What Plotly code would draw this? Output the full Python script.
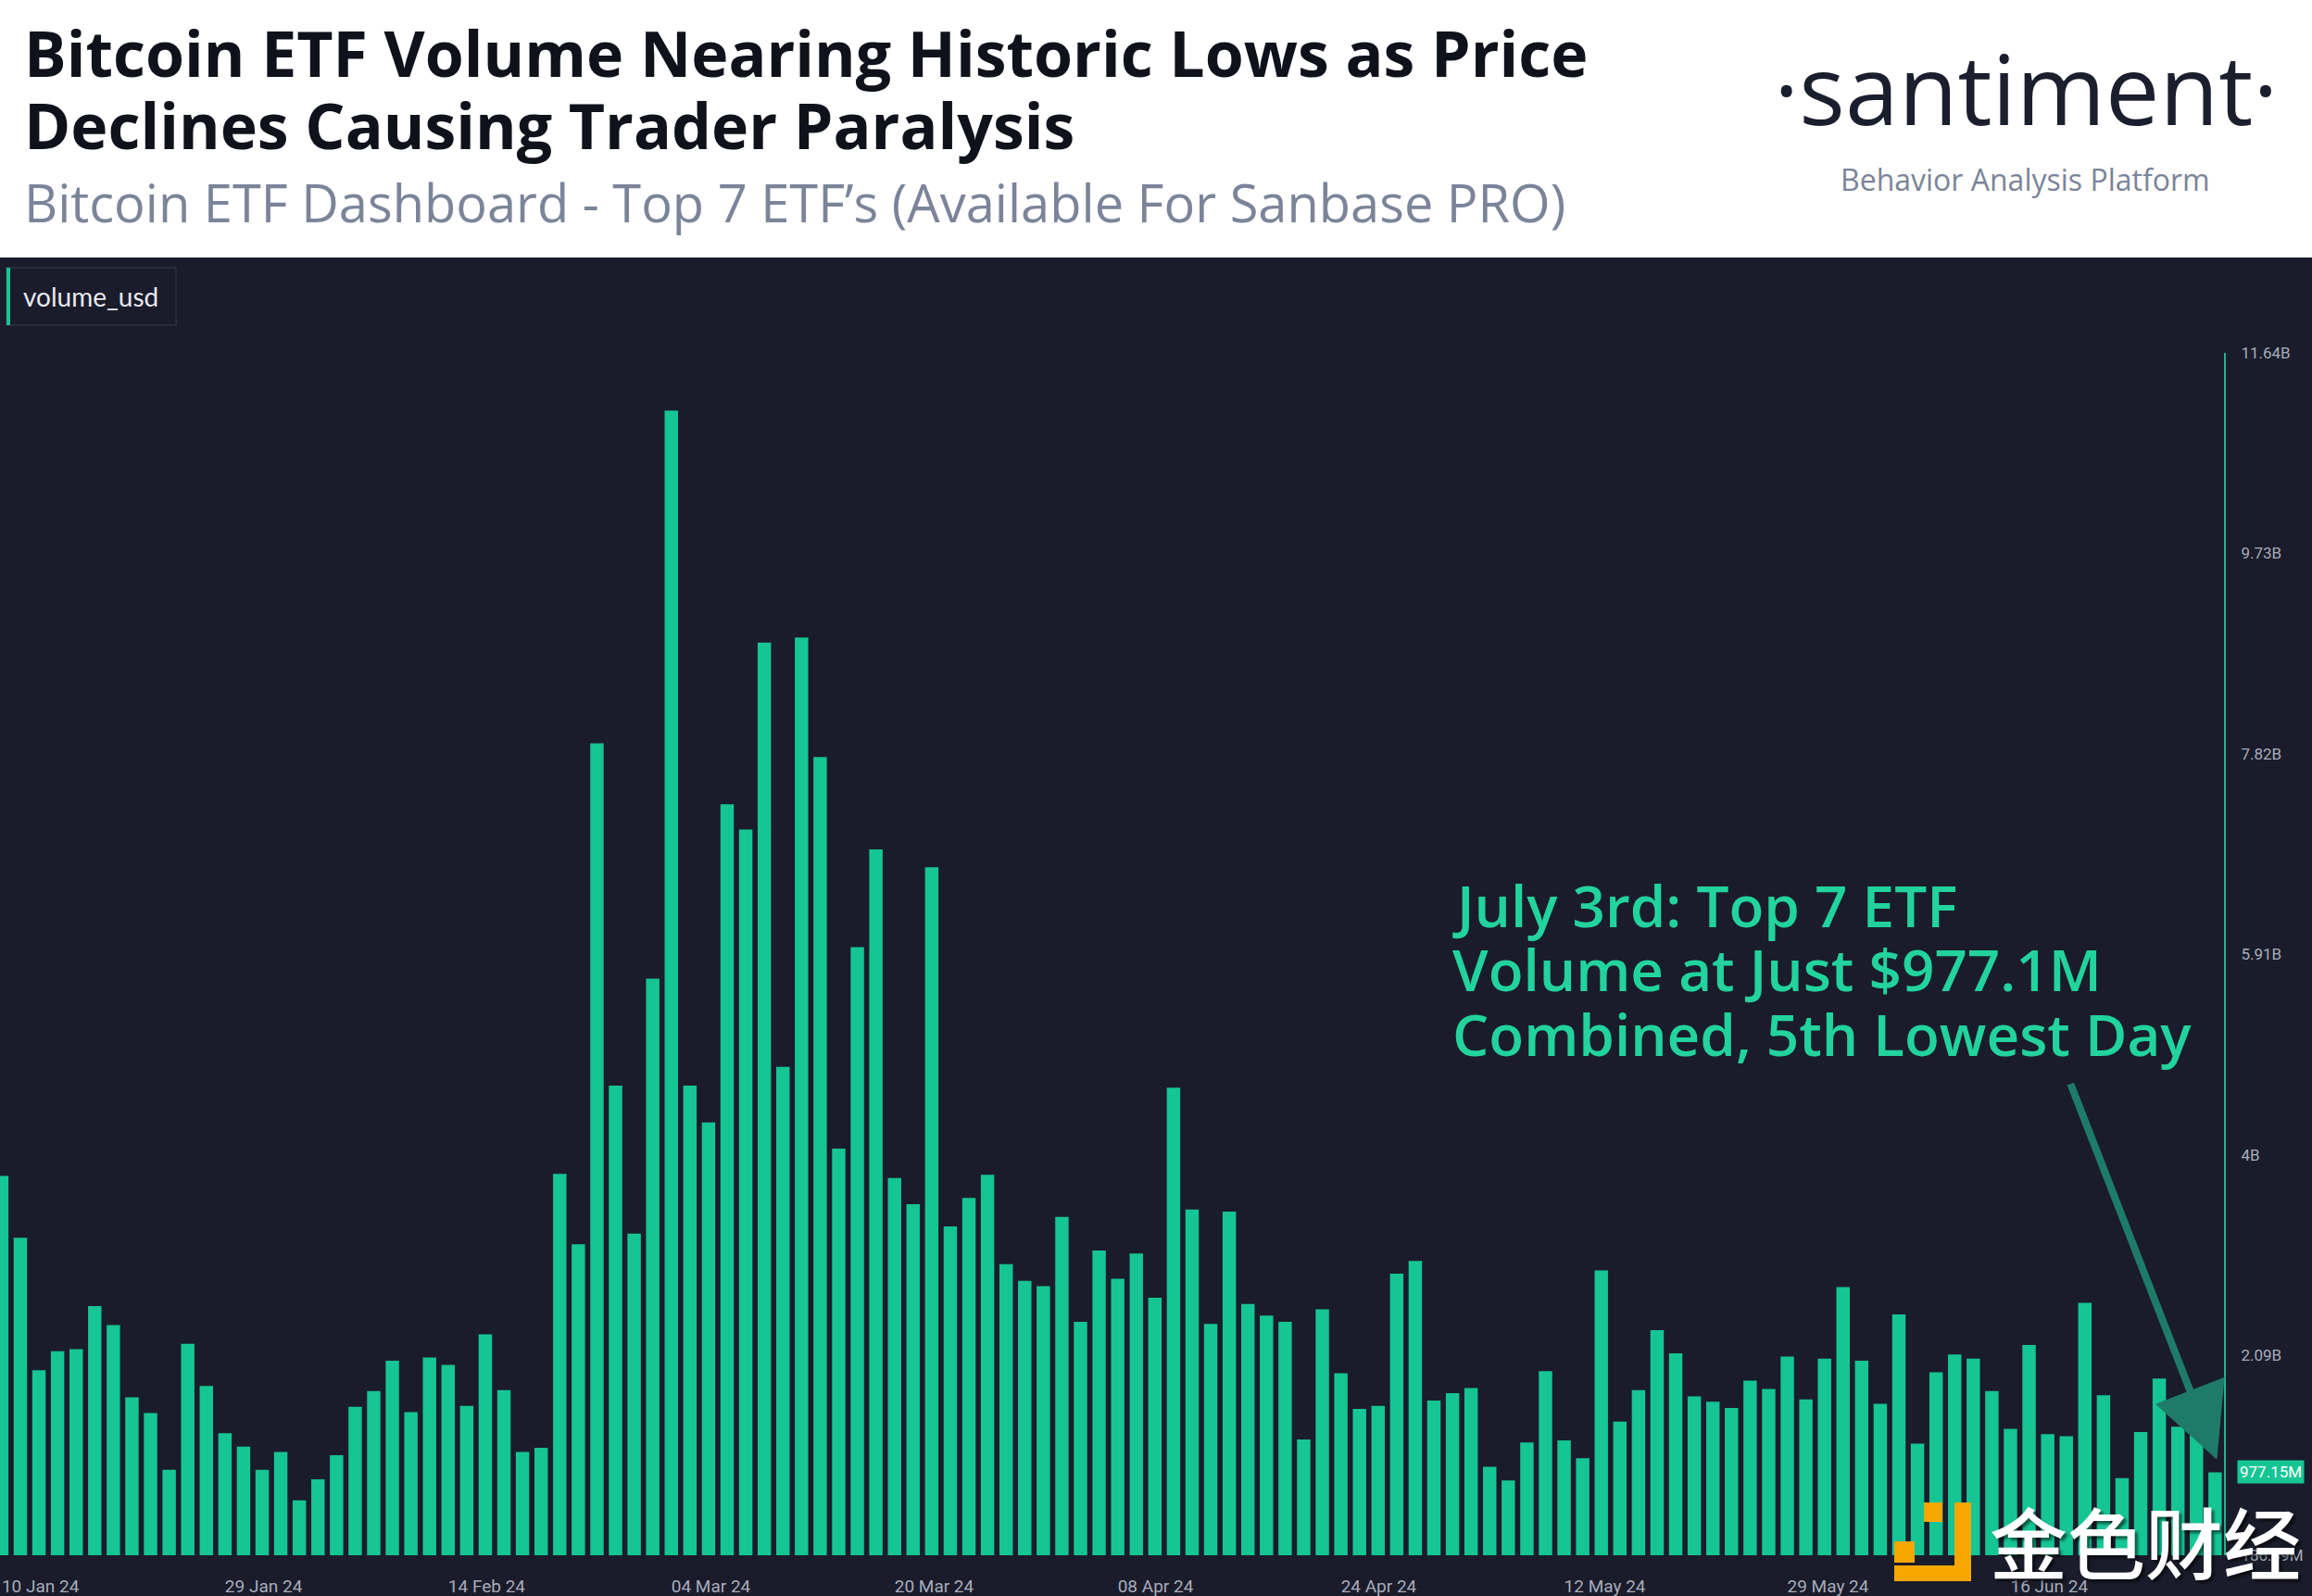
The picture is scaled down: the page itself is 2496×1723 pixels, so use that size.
import plotly.graph_objects as go

# ---------------- data ----------------
# Daily combined volume of the top-7 spot Bitcoin ETFs, in billions of USD
VOLUME_B = [
    3.80, 3.21, 1.95, 2.13, 2.15, 2.56, 2.38, 1.69, 1.54, 1.00,
    2.20, 1.80, 1.35, 1.22, 1.00, 1.17, 0.71, 0.91, 1.14, 1.60,
    1.75, 2.04, 1.55, 2.07, 2.00, 1.61, 2.29, 1.76, 1.17, 1.21,
    3.82, 3.15, 7.92, 4.66, 3.25, 5.68, 11.09, 4.66, 4.31, 7.34,
    7.10, 8.88, 4.84, 8.93, 7.79, 4.06, 5.98, 6.91, 3.78, 3.53,
    6.74, 3.32, 3.59, 3.81, 2.96, 2.80, 2.75, 3.41, 2.41, 3.09,
    2.82, 3.06, 2.64, 4.64, 3.48, 2.39, 3.46, 2.58, 2.47, 2.41,
    1.29, 2.53, 1.92, 1.58, 1.61, 2.87, 2.99, 1.66, 1.73, 1.78,
    1.03, 0.90, 1.26, 1.94, 1.28, 1.11, 2.90, 1.46, 1.76, 2.33,
    2.11, 1.70, 1.65, 1.59, 1.85, 1.77, 2.08, 1.67, 2.06, 2.74,
    2.04, 1.63, 2.48, 1.25, 1.93, 2.10, 2.06, 1.75, 1.39, 2.19,
    1.34, 1.32, 2.59, 1.71, 0.92, 1.36, 1.87, 1.41, 1.33, 0.97715,
]
VOLUME_USD = [v * 1e9 for v in VOLUME_B]
DAY_INDEX = list(range(len(VOLUME_USD)))  # trading-day categories

X_TICK_POS = [0, 12, 24, 36, 48, 60, 72, 84, 96, 108]
X_TICK_LABELS = ["10 Jan 24", "29 Jan 24", "14 Feb 24", "04 Mar 24", "20 Mar 24",
                 "08 Apr 24", "24 Apr 24", "12 May 24", "29 May 24", "16 Jun 24"]

Y_TICK_VALUES = [186.49e6, 2.09e9, 4.00e9, 5.91e9, 7.82e9, 9.73e9, 11.64e9]
Y_TICK_LABELS = ["186.49M", "2.09B", "4B", "5.91B", "7.82B", "9.73B", "11.64B"]

TITLE_LINES = ["Bitcoin ETF Volume Nearing Historic Lows as Price",
               "Declines Causing Trader Paralysis"]
SUBTITLE = "Bitcoin ETF Dashboard - Top 7 ETF\u2019s (Available For Sanbase PRO)"
CALLOUT_LINES = ["July 3rd: Top 7 ETF", "Volume at Just $977.1M",
                 "Combined, 5th Lowest Day"]
SERIES_NAME = "volume_usd"

# ---------------- styling / layout ----------------
W, H = 2496, 1723
M_L, M_R, M_T, M_B = 0, 95, 381, 44
PW, PH = W - M_L - M_R, H - M_T - M_B
DARK = "#1a1c2b"
BAR_COLOR = "#15c594"
AXIS_GREEN = "#1fb48e"
TICK_COLOR = "#a7acbb"
GREY_TEXT = "#7b8499"
LOGO_YELLOW = "#f5a700"


def px(x):
    """figure pixel x -> paper coordinate"""
    return (x - M_L) / PW


def py(y):
    """figure pixel y (from top) -> paper coordinate"""
    return (H - M_B - y) / PH


fig = go.Figure(
    go.Bar(
        x=DAY_INDEX,
        y=VOLUME_USD,
        name=SERIES_NAME,
        width=0.72,
        marker=dict(color=BAR_COLOR, line=dict(width=0)),
        hoverinfo="skip",
    )
)

fig.update_layout(
    width=W,
    height=H,
    autosize=False,
    template="none",
    margin=dict(l=M_L, r=M_R, t=M_T, b=M_B, pad=0),
    paper_bgcolor="white",
    plot_bgcolor=DARK,
    showlegend=False,
    xaxis=dict(
        range=[-0.095, 119.48],
        tickmode="array",
        tickvals=X_TICK_POS,
        ticktext=X_TICK_LABELS,
        ticklabelposition="outside right",
        ticks="",
        showgrid=False,
        zeroline=False,
        showline=False,
        automargin=False,
        ticklabelstandoff=20,
        tickfont=dict(family="Roboto", size=19, color=TICK_COLOR),
        fixedrange=True,
    ),
    yaxis=dict(
        side="right",
        range=[186.40e6, 11.6402e9],
        tickmode="array",
        tickvals=Y_TICK_VALUES,
        ticktext=Y_TICK_LABELS,
        ticks="",
        showgrid=False,
        zeroline=False,
        showline=True,
        linecolor=AXIS_GREEN,
        linewidth=2,
        automargin=False,
        ticklabelstandoff=13,
        tickfont=dict(family="Roboto", size=17, color=TICK_COLOR),
        fixedrange=True,
    ),
)


def rect(x0, y0, x1, y1, fill, line=None, layer="above"):
    return dict(type="rect", xref="paper", yref="paper",
                x0=px(x0), x1=px(x1), y0=py(y1), y1=py(y0),
                fillcolor=fill, line=line or dict(width=0), layer=layer)


shapes = [
    # dark chart panel below the white header
    rect(0, 278, W, H, DARK, layer="below"),
    # legend chip
    rect(7, 289, 190, 351, "rgba(0,0,0,0)", line=dict(color="#2c3044", width=1.5)),
    rect(7, 289, 11, 351, BAR_COLOR),
    # watermark logo blocks
    rect(2077, 1622, 2097, 1643, LOGO_YELLOW),
    rect(2110, 1622, 2128, 1707, LOGO_YELLOW),
    rect(2045, 1664, 2067, 1687, LOGO_YELLOW),
    rect(2045, 1690, 2128, 1707, LOGO_YELLOW),
]

annotations = []
# title
for text, yc in zip(TITLE_LINES, [57, 135]):
    annotations.append(dict(
        text=text, xref="paper", yref="paper", x=px(24), y=py(yc),
        xanchor="left", yanchor="middle", showarrow=False,
        font=dict(family="Open Sans", size=68, color="#10121b", weight=700)))
annotations.append(dict(
    text=SUBTITLE, xref="paper", yref="paper", x=px(24), y=py(218),
    xanchor="left", yanchor="middle", showarrow=False,
    font=dict(family="Open Sans", size=56, color=GREY_TEXT)))
# brand
annotations.append(dict(
    text="\u00b7santiment\u00b7", xref="paper", yref="paper", x=px(2187), y=py(95),
    xanchor="center", yanchor="middle", showarrow=False,
    font=dict(family="Open Sans", size=104, color="#1b1e2d")))
annotations.append(dict(
    text="Behavior Analysis Platform", xref="paper", yref="paper",
    x=px(2186), y=py(194), xanchor="center", yanchor="middle", showarrow=False,
    font=dict(family="Open Sans", size=32, color=GREY_TEXT)))
# legend chip label
annotations.append(dict(
    text=SERIES_NAME, xref="paper", yref="paper", x=px(23), y=py(320),
    xanchor="left", yanchor="middle", showarrow=False,
    font=dict(family="Lato", size=28, color="#e8eaf0")))
# callout
for text, yc in zip(CALLOUT_LINES, [977, 1046, 1116]):
    annotations.append(dict(
        text=text, xref="paper", yref="paper", x=px(1566), y=py(yc),
        xanchor="left", yanchor="middle", showarrow=False,
        font=dict(family="Open Sans", size=62, color="#22d39d", weight=600)))
# arrow to the last bar
last = len(VOLUME_USD) - 1
annotations.append(dict(
    text="", x=last + 0.1, y=VOLUME_USD[last] + 0.12e9, xref="x", yref="y",
    ax=111.2, ay=4.69e9, axref="x", ayref="y", showarrow=True,
    arrowhead=2, arrowsize=2.0, arrowwidth=8, arrowcolor="#1e7b67", standoff=0))
# last value badge on the axis
annotations.append(dict(
    text=f"{VOLUME_USD[last] / 1e6:.2f}M", xref="paper", yref="y",
    x=px(2415), y=VOLUME_USD[last], xanchor="left", yanchor="middle",
    showarrow=False, bgcolor=BAR_COLOR, borderpad=2,
    font=dict(family="Roboto", size=17, color="white")))
# watermark
annotations.append(dict(
    text="金色财经", xref="paper", yref="paper", x=px(2316), y=py(1662),
    xanchor="center", yanchor="middle", showarrow=False,
    font=dict(family="Noto Sans CJK SC", size=84, color="white", weight=500,
              shadow="3px 3px 3px rgba(0,0,0,0.55)")))

fig.update_layout(shapes=shapes, annotations=annotations)

fig.write_html(
    "out.html",
    config={"displayModeBar": False},
    post_script="document.body.style.margin='0';document.body.style.overflow='hidden';",
)
